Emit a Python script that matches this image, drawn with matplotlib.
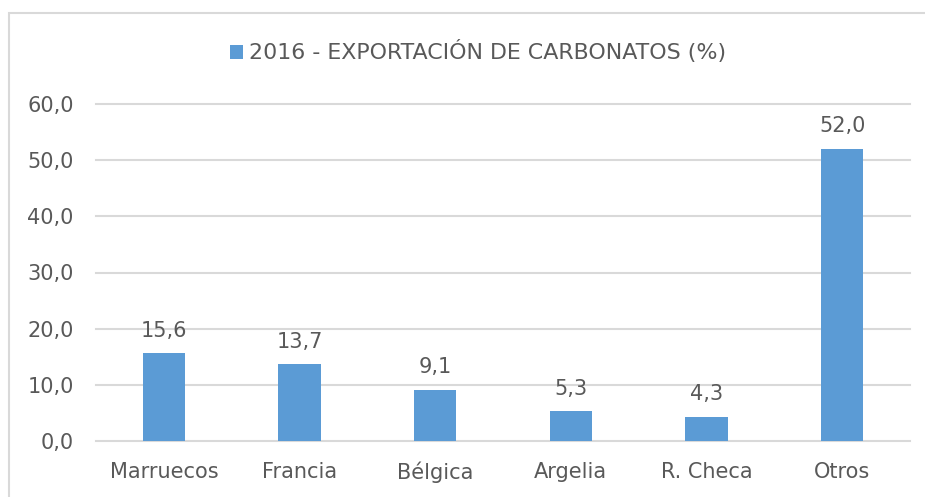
import matplotlib.pyplot as plt
from matplotlib.patches import Rectangle

# Data
paises = ["Marruecos", "Francia", "Bélgica", "Argelia", "R. Checa", "Otros"]
porcentajes = [15.6, 13.7, 9.1, 5.3, 4.3, 52.0]
y_ticks = [0, 10, 20, 30, 40, 50, 60]
titulo = "2016 - EXPORTACIÓN DE CARBONATOS (%)"

azul = "#5B9BD5"
gris_texto = "#595959"
gris_rejilla = "#D9D9D9"

plt.rcParams['font.family'] = ['DejaVu Sans']
fs = 15

fig = plt.figure(figsize=(9.25, 4.97), dpi=100)
W, H = 925, 497
ax = fig.add_axes([96 / W, 1 - 441 / H, (910 - 96) / W, (441 - 104) / H])

x = range(len(paises))
bars = ax.bar(x, porcentajes, width=0.31, color=azul, zorder=3)

for xi, v in zip(x, porcentajes):
    ax.annotate(f"{v:.1f}".replace(".", ","), (xi, v), xytext=(0, 9),
                textcoords="offset points", ha="center", va="bottom",
                fontsize=fs, color=gris_texto)

ax.set_xlim(-0.5, len(paises) - 0.5)
ax.set_ylim(0, 60)
ax.set_yticks(y_ticks)
ax.set_yticklabels([f"{t:.1f}".replace(".", ",") for t in y_ticks])
ax.set_xticks(list(x))
ax.set_xticklabels(paises)
ax.tick_params(axis="both", length=0, labelsize=fs, labelcolor=gris_texto)
ax.tick_params(axis="y", pad=16)
ax.tick_params(axis="x", pad=15)
for t in y_ticks:
    ax.axhline(t, color=gris_rejilla, linewidth=1.5, zorder=0, clip_on=False)
for s in ax.spines.values():
    s.set_visible(False)

# legend entry on top
ax.legend([bars], [titulo], loc="center", bbox_to_anchor=(478 / W, 1 - 52 / H),
          bbox_transform=fig.transFigure, frameon=False, fontsize=15.9,
          handlelength=0.6, handleheight=0.6, handletextpad=0.3,
          labelcolor=gris_texto)

# chart border (cut off on right/bottom as in the reference)
fig.patches.append(Rectangle((9 / W, -0.1), 1.2, 1 - 13 / H + 0.1,
                             transform=fig.transFigure, fill=False,
                             edgecolor=gris_rejilla, linewidth=1.5))

fig.savefig("out.png", dpi=100)
